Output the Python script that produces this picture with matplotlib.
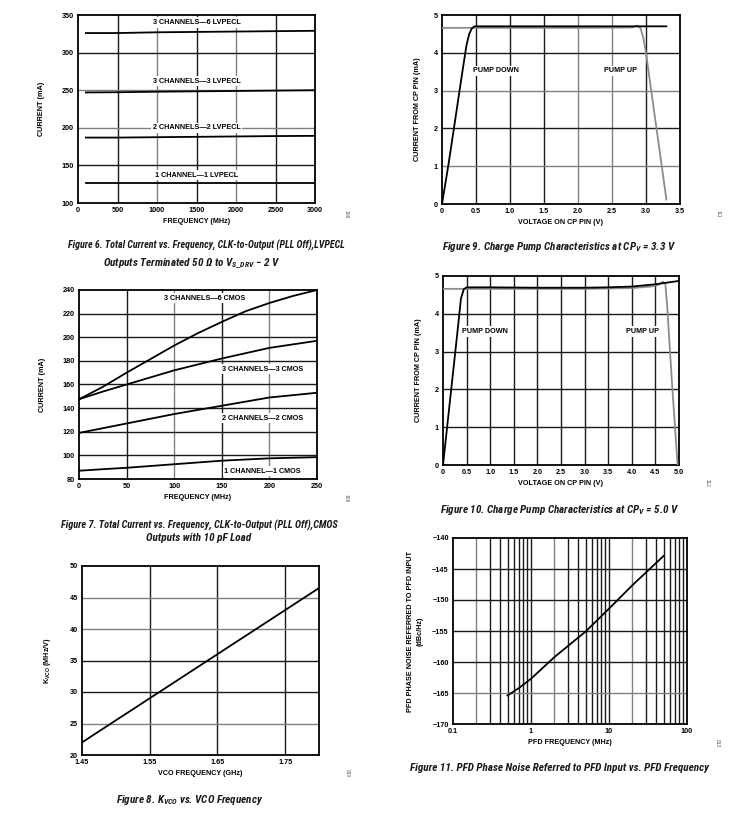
import numpy as np
import matplotlib
matplotlib.use("Agg")
import matplotlib.pyplot as plt
from matplotlib.ticker import FixedLocator, FixedFormatter, NullFormatter

# ---------------- DATA ----------------
# Figure 6: LVPECL total current vs frequency
f6_freq = [100, 500, 1000, 1500, 2000, 2500, 3000]
f6_3ch_6lvpecl = [326, 326, 327, 327.5, 328, 328.5, 329]
f6_3ch_3lvpecl = [247, 247.3, 248, 248.5, 249, 249.5, 250]
f6_2ch_2lvpecl = [187, 187, 187.5, 188, 188.5, 189, 189.3]
f6_1ch_1lvpecl = [126, 126, 126, 126, 126, 126, 126]

# Figure 7: CMOS total current vs frequency
f7_freq = [0, 25, 50, 75, 100, 125, 150, 175, 200, 225, 250]
f7_3ch_6cmos = [147.5, 158, 170, 181.5, 193, 203.5, 213, 222, 229, 235, 240]
f7_3ch_3cmos = [147.5, 154, 160, 166, 172, 177, 182, 186.5, 191, 194, 197]
f7_2ch_2cmos = [119, 123, 127, 131, 135, 138.5, 142, 145.5, 149, 151, 153]
f7_1ch_1cmos = [87, 88.3, 89.5, 91, 92.5, 94, 95.5, 96.5, 97.5, 98, 98.5]

# Figure 8: Kvco vs VCO frequency
f8_freq = [1.45, 1.55, 1.65, 1.75, 1.80]
f8_kvco = [22, 29, 36, 43, 46.5]

# Figure 9: charge pump at CPV = 3.3 V
f9_down_v = [0, 0.1, 0.2, 0.3, 0.36, 0.40, 0.44, 0.48, 0.6, 1.0, 2.0, 3.0, 3.3]
f9_down_i = [0, 1.1, 2.3, 3.5, 4.2, 4.5, 4.65, 4.70, 4.70, 4.70, 4.70, 4.70, 4.70]
f9_up_v = [0, 1.0, 2.0, 2.8, 2.87, 2.92, 2.96, 3.0, 3.1, 3.2, 3.3]
f9_up_i = [4.66, 4.66, 4.66, 4.67, 4.72, 4.65, 4.4, 4.0, 2.7, 1.41, 0.12]

# Figure 10: charge pump at CPV = 5.0 V
f10_down_v = [0, 0.1, 0.2, 0.3, 0.38, 0.44, 0.5, 1.0, 2.0, 3.0, 3.5, 4.0, 4.5, 5.0]
f10_down_i = [0, 1.15, 2.3, 3.45, 4.4, 4.65, 4.70, 4.70, 4.69, 4.69, 4.70, 4.72, 4.78, 4.87]
f10_up_v = [0, 1.0, 2.0, 3.0, 4.0, 4.4, 4.55, 4.62, 4.66, 4.71, 4.75, 4.85, 4.97]
f10_up_i = [4.66, 4.66, 4.66, 4.66, 4.68, 4.72, 4.76, 4.82, 4.85, 4.80, 4.2, 2.2, 0.0]

# Figure 11: PFD phase noise vs PFD frequency
f11_freq = [0.5, 0.7, 1, 2, 5, 10, 20, 50]
f11_noise = [-165.4, -164.2, -162.7, -159.2, -155.1, -151.4, -147.6, -142.9]

# ---------------- STYLE ----------------
FONT = ["Liberation Sans", "DejaVu Sans"]
CAPFONT = ["Roboto Condensed", "Liberation Sans", "DejaVu Sans"]
plt.rcParams["font.family"] = FONT
plt.rcParams["mathtext.fontset"] = "custom"
plt.rcParams["mathtext.rm"] = "Liberation Sans:bold"
plt.rcParams["mathtext.bf"] = "Liberation Sans:bold"
plt.rcParams["mathtext.it"] = "Roboto Condensed:bold:italic"

W, H = 747, 830
fig = plt.figure(figsize=(W / 100, H / 100), dpi=100)

TICK_FS = 5.2
LAB_FS = 5.2
ANN_FS = 5.2
CAP_FS = 8
GRID_DARK = "#1a1a1a"
GRID_GRAY = "#808080"
CURVE_GRAY = "#8c8c8c"


def make_axes(x0, y0, x1, y1):
    ax = fig.add_axes([x0 / W, 1 - y1 / H, (x1 - x0) / W, (y1 - y0) / H])
    for s in ax.spines.values():
        s.set_linewidth(1.3)
        s.set_color("black")
    ax.tick_params(length=0, pad=3, labelsize=TICK_FS)
    return ax


def style_ticks(ax):
    for lab in ax.get_xticklabels() + ax.get_yticklabels():
        lab.set_fontweight("bold")
        lab.set_fontsize(TICK_FS)


def vgrid(ax, xs, colors):
    for x, c in zip(xs, colors):
        ax.axvline(x, color=c, lw=1.0, zorder=1)


def hgrid(ax, ys, colors):
    for y, c in zip(ys, colors):
        ax.axhline(y, color=c, lw=1.0, zorder=1)


def ann(ax, x, y, s):
    ax.text(x, y, s, fontsize=ANN_FS, fontweight="bold", ha="center", va="center",
            zorder=3, bbox=dict(facecolor="white", edgecolor="none", pad=1.2))


def fid(px, py, s):
    fig.text(px / W, 1 - py / H, s, fontsize=3.5, color="#555555", rotation=270,
             ha="center", va="center")


def caption(px, py, s, fs=CAP_FS):
    fig.text(px / W, 1 - py / H, s, fontsize=fs, fontweight="bold", style="italic",
             family=CAPFONT, ha="center", va="center", color="#1a1a1a")


# ---- Figure 6 ----
ax = make_axes(78, 15, 315, 203)
ax.set_xlim(0, 3000)
ax.set_ylim(100, 350)
ax.set_xticks(range(0, 3001, 500))
ax.set_yticks(range(100, 351, 50))
vgrid(ax, [500, 1000, 1500, 2000, 2500], [GRID_DARK, GRID_GRAY, GRID_DARK, GRID_GRAY, GRID_DARK])
hgrid(ax, [150, 200, 250, 300], [GRID_DARK, GRID_GRAY, GRID_GRAY, GRID_DARK])
for ys in [f6_3ch_6lvpecl, f6_3ch_3lvpecl, f6_2ch_2lvpecl, f6_1ch_1lvpecl]:
    ax.plot(f6_freq, ys, color="black", lw=1.3, zorder=4)
ann(ax, 1500, 340, "3 CHANNELS\u20146 LVPECL")
ann(ax, 1500, 262, "3 CHANNELS\u20143 LVPECL")
ann(ax, 1500, 200, "2 CHANNELS\u20142 LVPECL")
ann(ax, 1500, 137, "1 CHANNEL\u20141 LVPECL")
ax.set_xlabel("FREQUENCY (MHz)", fontsize=LAB_FS, fontweight="bold", labelpad=3)
ax.set_ylabel("CURRENT (mA)", fontsize=LAB_FS, fontweight="bold", labelpad=12)
style_ticks(ax)
fid(346, 214, "108")
caption(206, 245, "Figure 6. Total Current vs. Frequency, CLK-to-Output (PLL Off),LVPECL", fs=7.2)
caption(192, 263, "Outputs Terminated 50 \u03a9 to V$_{\\mathit{S\\_DRV}}$ \u2212 2 V")

# ---- Figure 7 ----
ax = make_axes(79, 290, 317, 479)
ax.set_xlim(0, 250)
ax.set_ylim(80, 240)
ax.set_xticks(range(0, 251, 50))
ax.set_yticks(range(80, 241, 20))
vgrid(ax, [50, 100, 150, 200], [GRID_DARK, GRID_GRAY, GRID_DARK, GRID_GRAY])
hgrid(ax, [100, 120, 140, 160, 180, 200, 220], [GRID_DARK] * 7)
for ys in [f7_3ch_6cmos, f7_3ch_3cmos, f7_2ch_2cmos, f7_1ch_1cmos]:
    ax.plot(f7_freq, ys, color="black", lw=1.3, zorder=4)
ann(ax, 132, 233, "3 CHANNELS\u20146 CMOS")
ann(ax, 193, 173, "3 CHANNELS\u20143 CMOS")
ann(ax, 193, 131.5, "2 CHANNELS\u20142 CMOS")
ann(ax, 193, 86.5, "1 CHANNEL\u20141 CMOS")
ax.set_xlabel("FREQUENCY (MHz)", fontsize=LAB_FS, fontweight="bold", labelpad=3)
ax.set_ylabel("CURRENT (mA)", fontsize=LAB_FS, fontweight="bold", labelpad=12)
style_ticks(ax)
fid(346, 498, "109")
caption(199, 525, "Figure 7. Total Current vs. Frequency, CLK-to-Output (PLL Off),CMOS", fs=7.4)
caption(199, 538, "Outputs with 10 pF Load")

# ---- Figure 8 ----
ax = make_axes(82, 566, 319, 755)
ax.set_xlim(1.45, 1.80)
ax.set_ylim(20, 50)
ax.set_xticks([1.45, 1.55, 1.65, 1.75])
ax.set_xticklabels(["1.45", "1.55", "1.65", "1.75"])
ax.set_yticks(range(20, 51, 5))
vgrid(ax, [1.55, 1.65, 1.75], [GRID_DARK, GRID_DARK, GRID_DARK])
hgrid(ax, [25, 30, 35, 40, 45], [GRID_GRAY, GRID_DARK, GRID_DARK, GRID_GRAY, GRID_GRAY])
ax.plot(f8_freq, f8_kvco, color="black", lw=1.3, zorder=4)
ax.set_xlabel("VCO FREQUENCY (GHz)", fontsize=LAB_FS, fontweight="bold", labelpad=3)
ax.set_ylabel(r"K$_{\mathrm{VCO}}$ (MHz/V)", fontsize=LAB_FS, fontweight="bold", labelpad=12)
style_ticks(ax)
fid(347, 773, "010")
caption(190, 800, r"Figure 8. K$_{\mathit{VCO}}$ vs. VCO Frequency")

# ---- Figure 9 ----
ax = make_axes(442, 15, 680, 204)
ax.set_xlim(0, 3.5)
ax.set_ylim(0, 5)
ax.set_xticks(np.arange(0, 3.51, 0.5))
ax.set_xticklabels(["0", "0.5", "1.0", "1.5", "2.0", "2.5", "3.0", "3.5"])
ax.set_yticks(range(0, 6))
vgrid(ax, [0.5, 1.0, 1.5, 2.0, 2.5, 3.0],
      [GRID_DARK, GRID_DARK, GRID_DARK, GRID_GRAY, GRID_GRAY, GRID_DARK])
hgrid(ax, [1, 2, 3, 4], [GRID_GRAY, GRID_DARK, GRID_GRAY, GRID_DARK])
ax.plot(f9_up_v, f9_up_i, color=CURVE_GRAY, lw=1.3, zorder=4)
ax.plot(f9_down_v, f9_down_i, color="black", lw=1.3, zorder=5)
ann(ax, 0.79, 3.52, "PUMP DOWN")
ann(ax, 2.62, 3.52, "PUMP UP")
ax.set_xlabel("VOLTAGE ON CP PIN (V)", fontsize=LAB_FS, fontweight="bold", labelpad=3)
ax.set_ylabel("CURRENT FROM CP PIN (mA)", fontsize=LAB_FS, fontweight="bold", labelpad=9)
style_ticks(ax)
fid(718, 214, "111")
caption(559, 247, r"Figure 9. Charge Pump Characteristics at CP$_{\mathit{V}}$ = 3.3 V")

# ---- Figure 10 ----
ax = make_axes(443, 276, 679, 465)
ax.set_xlim(0, 5)
ax.set_ylim(0, 5)
ax.set_xticks(np.arange(0, 5.01, 0.5))
ax.set_xticklabels(["0", "0.5", "1.0", "1.5", "2.0", "2.5", "3.0", "3.5", "4.0", "4.5", "5.0"])
ax.set_yticks(range(0, 6))
vgrid(ax, np.arange(0.5, 4.51, 0.5), [GRID_DARK] * 9)
hgrid(ax, [1, 2, 3, 4], [GRID_DARK] * 4)
ax.plot(f10_up_v, f10_up_i, color=CURVE_GRAY, lw=1.3, zorder=4)
ax.plot(f10_down_v, f10_down_i, color="black", lw=1.3, zorder=5)
ann(ax, 0.89, 3.53, "PUMP DOWN")
ann(ax, 4.22, 3.53, "PUMP UP")
ax.set_xlabel("VOLTAGE ON CP PIN (V)", fontsize=LAB_FS, fontweight="bold", labelpad=3)
ax.set_ylabel("CURRENT FROM CP PIN (mA)", fontsize=LAB_FS, fontweight="bold", labelpad=9)
style_ticks(ax)
fid(707, 483, "112")
caption(560, 510, r"Figure 10. Charge Pump Characteristics at CP$_{\mathit{V}}$ = 5.0 V")

# ---- Figure 11 ----
ax = make_axes(453, 538, 687, 724)
ax.set_xscale("log")
ax.set_xlim(0.1, 100)
ax.set_ylim(-170, -140)
ax.xaxis.set_major_locator(FixedLocator([0.1, 1, 10, 100]))
ax.xaxis.set_major_formatter(FixedFormatter(["0.1", "1", "10", "100"]))
ax.xaxis.set_minor_formatter(NullFormatter())
ax.tick_params(which="minor", length=0)
ax.set_yticks(range(-170, -139, 5))
ax.set_yticklabels(["\u2212%d" % abs(v) for v in range(-170, -139, 5)])
gx = []
gc = []
for dec in [0.1, 1, 10]:
    for m in range(1, 10):
        v = dec * m
        if v <= 0.1:
            continue
        gx.append(v)
        gc.append(GRID_GRAY if m == 2 else GRID_DARK)
vgrid(ax, gx, gc)
hgrid(ax, [-165, -160, -155, -150, -145], [GRID_GRAY, GRID_DARK, GRID_DARK, GRID_DARK, GRID_DARK])
ax.plot(f11_freq, f11_noise, color="black", lw=1.3, zorder=4)
ax.set_xlabel("PFD FREQUENCY (MHz)", fontsize=LAB_FS, fontweight="bold", labelpad=3)
ax.set_ylabel("PFD PHASE NOISE REFERRED TO PFD INPUT\n(dBc/Hz)", fontsize=LAB_FS,
              fontweight="bold", labelpad=6, linespacing=1.6)
style_ticks(ax)
fid(717, 743, "013")
caption(559, 768, "Figure 11. PFD Phase Noise Referred to PFD Input vs. PFD Frequency")

fig.savefig("out.png", dpi=100, facecolor="white")
